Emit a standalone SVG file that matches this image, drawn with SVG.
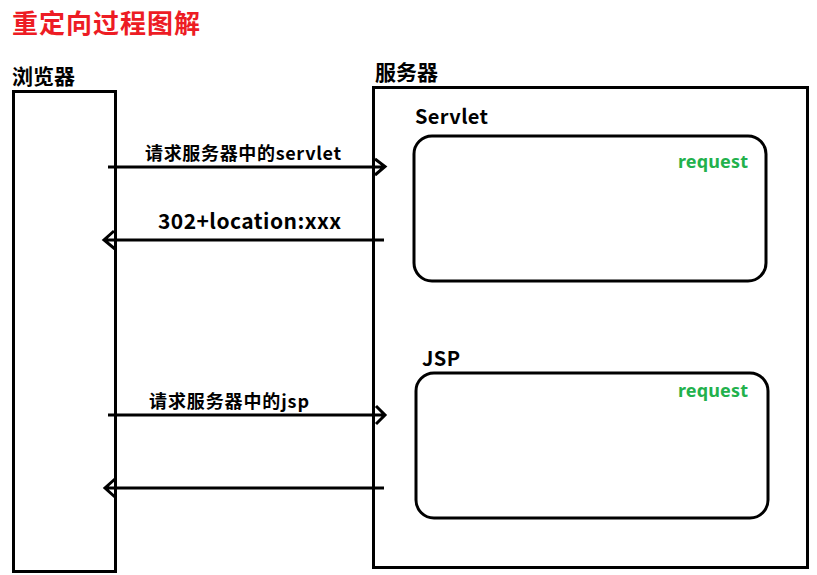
<svg xmlns="http://www.w3.org/2000/svg" width="817" height="575" viewBox="0 0 817 575">
<style>
.t{font-family:"Noto Sans CJK SC","Noto Sans",sans-serif;font-weight:bold;fill:#000}
.box{fill:none;stroke:#000;stroke-width:3}
.ln{fill:none;stroke:#000;stroke-width:3}
.req{font-family:"Noto Sans","Noto Sans CJK SC",sans-serif;font-weight:bold;fill:#22B14C;font-size:18px}
</style>
<rect width="817" height="575" fill="#fff"/>
<text class="t" x="12" y="33" font-size="26" style="fill:#ED1C24" textLength="188">重定向过程图解</text>
<g id="browser">
<text class="t" x="12" y="84" font-size="21" textLength="63">浏览器</text>
<rect class="box" x="13.5" y="91.5" width="102" height="480"/>
</g>
<g id="server">
<text class="t" x="375" y="80" font-size="21" textLength="63">服务器</text>
<rect class="box" x="373.5" y="87.5" width="434" height="480"/>
</g>
<g id="servlet">
<text class="t" x="415" y="124" font-size="20" textLength="73">Servlet</text>
<rect class="box" x="414" y="136" width="352" height="145" rx="18"/>
<text class="req" x="678" y="168" textLength="70">request</text>
</g>
<g id="jsp">
<text class="t" x="422" y="366" font-size="20" textLength="38">JSP</text>
<rect class="box" x="416" y="373" width="352" height="145" rx="18"/>
<text class="req" x="678" y="397" textLength="70">request</text>
</g>
<g id="connectors">
<path class="ln" d="M108 167H385M375 159L385 166.5L375 175"/>
<text class="t" x="145" y="160" font-size="18" textLength="196">请求服务器中的servlet</text>
<path class="ln" d="M384 240H104M114 231L104 240L115 249"/>
<text class="t" x="158" y="229" font-size="21" textLength="183">302+location:xxx</text>
<path class="ln" d="M108 415H385M376 406L385 415L376 424"/>
<text class="t" x="149" y="408" font-size="18" textLength="160">请求服务器中的jsp</text>
<path class="ln" d="M384 488H105M115 479L105 488L115 497"/>
</g>
</svg>
